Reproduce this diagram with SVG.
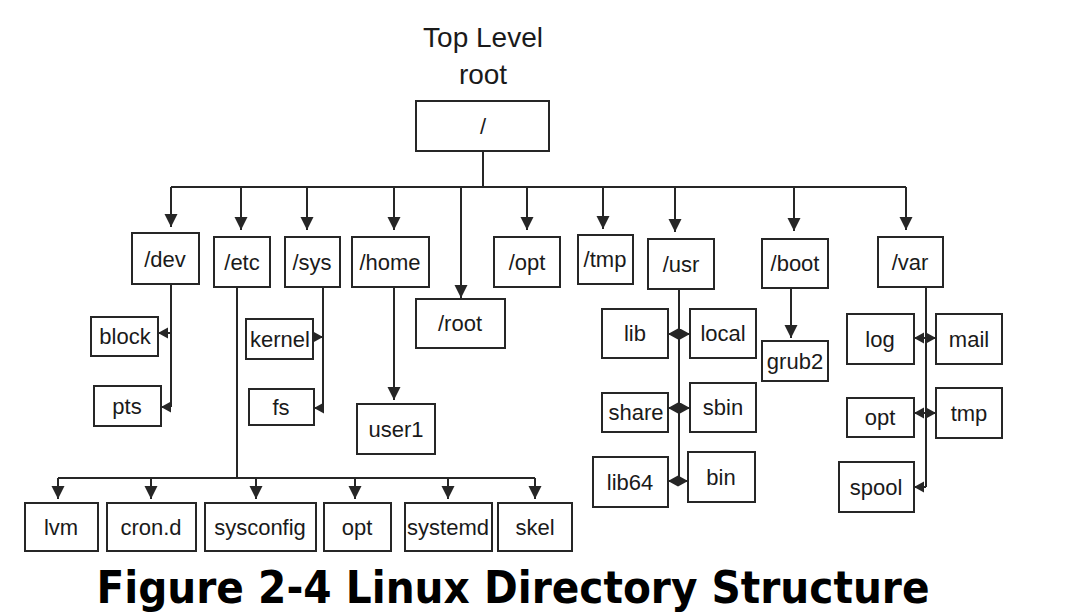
<svg xmlns="http://www.w3.org/2000/svg" width="1066" height="613" viewBox="0 0 1066 613">
<style>
.box rect{fill:#fff;stroke:#262626;stroke-width:2}
.box text{font-family:"Liberation Sans",Arial,sans-serif;font-size:22px;fill:#1a1a1a;text-anchor:middle}
.title{font-family:"Liberation Sans",Arial,sans-serif;font-size:28px;fill:#1a1a1a;text-anchor:middle}
.caption{font-family:"DejaVu Sans",sans-serif;font-weight:bold;font-size:44px;fill:#000;text-anchor:middle}
#connectors path{fill:none;stroke:#262626;stroke-width:2}
.ad{marker-end:url(#arrow)}
.as{marker-end:url(#sarrow)}
</style>
<defs>
<marker id="arrow" markerUnits="userSpaceOnUse" markerWidth="14" markerHeight="14" refX="13" refY="6.5" orient="auto"><path d="M0,0 L13,6.5 L0,13 z" fill="#262626"/></marker>
<marker id="sarrow" markerUnits="userSpaceOnUse" markerWidth="12" markerHeight="12" refX="10" refY="5.5" orient="auto"><path d="M0,0 L10,5.5 L0,11 z" fill="#262626"/></marker>
</defs>
<rect width="1066" height="613" fill="#fff"/>
<text class="title" x="483" y="47">Top Level</text>
<text class="title" x="483" y="84">root</text>
<g id="connectors">
<path d="M483,151 V187"/>
<path d="M171,187 H906"/>
<path class="ad" d="M171,187 V227"/>
<path class="ad" d="M241,187 V230"/>
<path class="ad" d="M307,187 V230"/>
<path class="ad" d="M394,187 V230"/>
<path class="ad" d="M461,187 V298"/>
<path class="ad" d="M527,187 V230"/>
<path class="ad" d="M603,187 V229"/>
<path class="ad" d="M675,187 V232"/>
<path class="ad" d="M794,187 V231"/>
<path class="ad" d="M906,187 V230"/>
<path d="M171,284 V407"/>
<path class="as" d="M171,333 H158"/>
<path class="as" d="M171,407 H161"/>
<path d="M323,287 V408"/>
<path class="as" d="M313,337 H323"/>
<path class="as" d="M323,408 H314"/>
<path d="M237,287 V478"/>
<path d="M58,478 H535"/>
<path class="ad" d="M58,478 V499"/>
<path class="ad" d="M151,478 V499"/>
<path class="ad" d="M256,478 V499"/>
<path class="ad" d="M355,478 V499"/>
<path class="ad" d="M448,478 V499"/>
<path class="ad" d="M535,478 V499"/>
<path class="ad" d="M394,287 V400"/>
<path class="ad" d="M791,288 V338"/>
<path d="M679,289 V481"/>
<path class="as" d="M679,334 H668"/>
<path class="as" d="M679,334 H690"/>
<path class="as" d="M679,408 H668"/>
<path class="as" d="M679,408 H690"/>
<path class="as" d="M679,481 H668"/>
<path class="as" d="M679,481 H688"/>
<path d="M926,287 V487"/>
<path class="as" d="M926,338 H914"/>
<path class="as" d="M926,338 H936"/>
<path class="as" d="M926,413 H914"/>
<path class="as" d="M926,413 H936"/>
<path class="as" d="M926,487 H914"/>
</g>
<g id="root" class="box"><rect x="416" y="101" width="133" height="50"/><text x="483" y="134">/</text></g>
<g id="dev" class="box"><rect x="132" y="233" width="67" height="51"/><text x="165" y="267">/dev</text></g>
<g id="etc" class="box"><rect x="214" y="237" width="56" height="50"/><text x="242" y="270">/etc</text></g>
<g id="sys" class="box"><rect x="285" y="237" width="55" height="50"/><text x="312" y="270">/sys</text></g>
<g id="home" class="box"><rect x="352" y="237" width="77" height="50"/><text x="390" y="270">/home</text></g>
<g id="rootdir" class="box"><rect x="416" y="299" width="89" height="49"/><text x="460" y="331">/root</text></g>
<g id="opt" class="box"><rect x="494" y="237" width="66" height="50"/><text x="527" y="270">/opt</text></g>
<g id="tmp" class="box"><rect x="578" y="235" width="55" height="49"/><text x="605" y="267">/tmp</text></g>
<g id="usr" class="box"><rect x="648" y="239" width="66" height="50"/><text x="681" y="272">/usr</text></g>
<g id="boot" class="box"><rect x="762" y="239" width="66" height="49"/><text x="795" y="271">/boot</text></g>
<g id="var" class="box"><rect x="878" y="237" width="65" height="50"/><text x="910" y="270">/var</text></g>
<g id="block" class="box"><rect x="91" y="317" width="67" height="39"/><text x="125" y="344">block</text></g>
<g id="pts" class="box"><rect x="94" y="386" width="67" height="40"/><text x="127" y="414">pts</text></g>
<g id="kernel" class="box"><rect x="246" y="319" width="67" height="40"/><text x="280" y="347">kernel</text></g>
<g id="fs" class="box"><rect x="249" y="389" width="65" height="36"/><text x="281" y="415">fs</text></g>
<g id="user1" class="box"><rect x="357" y="404" width="78" height="50"/><text x="396" y="437">user1</text></g>
<g id="grub2" class="box"><rect x="762" y="341" width="66" height="40"/><text x="795" y="369">grub2</text></g>
<g id="lib" class="box"><rect x="602" y="309" width="66" height="49"/><text x="635" y="341">lib</text></g>
<g id="local" class="box"><rect x="690" y="309" width="66" height="49"/><text x="723" y="341">local</text></g>
<g id="share" class="box"><rect x="602" y="393" width="66" height="39"/><text x="636" y="420">share</text></g>
<g id="sbin" class="box"><rect x="690" y="383" width="66" height="49"/><text x="723" y="415">sbin</text></g>
<g id="lib64" class="box"><rect x="593" y="457" width="75" height="50"/><text x="630" y="490">lib64</text></g>
<g id="bin" class="box"><rect x="688" y="452" width="67" height="50"/><text x="721" y="485">bin</text></g>
<g id="log" class="box"><rect x="847" y="314" width="67" height="50"/><text x="880" y="347">log</text></g>
<g id="mail" class="box"><rect x="936" y="314" width="66" height="50"/><text x="969" y="347">mail</text></g>
<g id="varopt" class="box"><rect x="847" y="398" width="67" height="39"/><text x="880" y="425">opt</text></g>
<g id="vartmp" class="box"><rect x="936" y="388" width="66" height="50"/><text x="969" y="421">tmp</text></g>
<g id="spool" class="box"><rect x="839" y="462" width="75" height="50"/><text x="876" y="495">spool</text></g>
<g id="lvm" class="box"><rect x="25" y="503" width="73" height="48"/><text x="61" y="535">lvm</text></g>
<g id="crond" class="box"><rect x="107" y="503" width="89" height="48"/><text x="151" y="535">cron.d</text></g>
<g id="sysconfig" class="box"><rect x="205" y="503" width="111" height="48"/><text x="260" y="535">sysconfig</text></g>
<g id="etcopt" class="box"><rect x="324" y="503" width="67" height="48"/><text x="357" y="535">opt</text></g>
<g id="systemd" class="box"><rect x="405" y="503" width="87" height="48"/><text x="448" y="535">systemd</text></g>
<g id="skel" class="box"><rect x="498" y="503" width="74" height="48"/><text x="535" y="535">skel</text></g>
<text class="caption" x="513" y="603" textLength="833" lengthAdjust="spacingAndGlyphs">Figure 2-4 Linux Directory Structure</text>
</svg>
